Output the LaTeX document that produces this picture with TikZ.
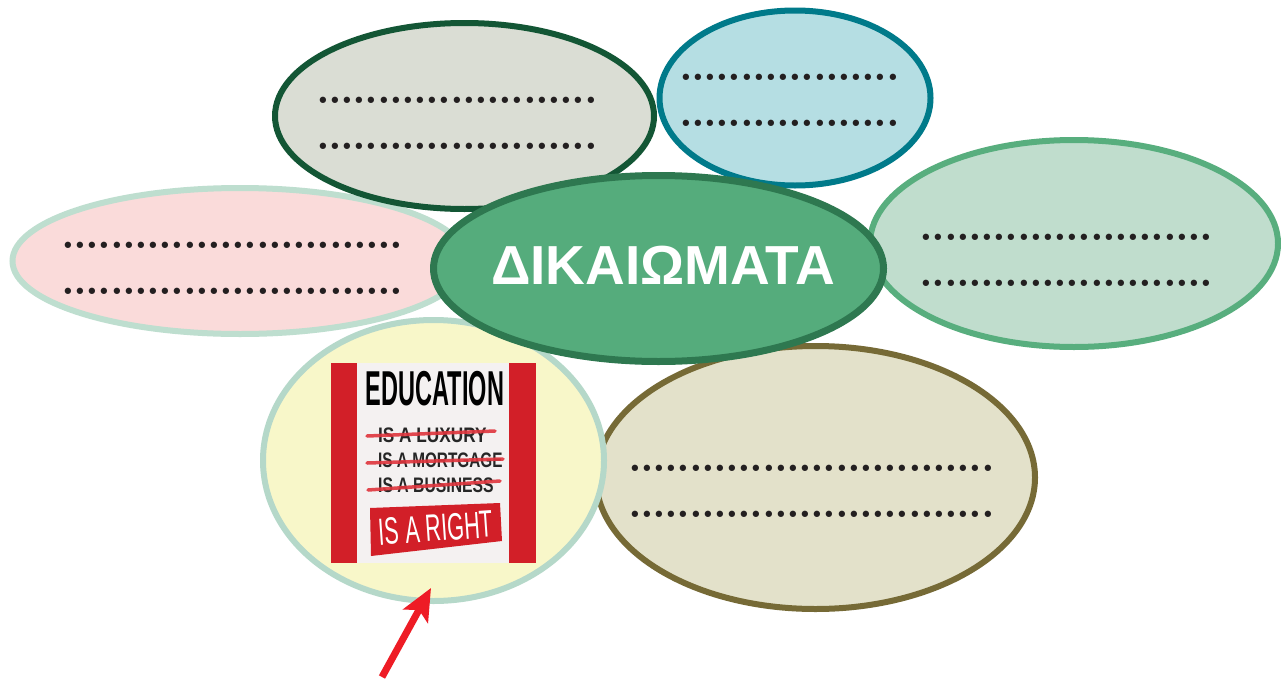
\documentclass[tikz,border=0pt]{standalone}
\usepackage{fontspec}
\usetikzlibrary{shapes.geometric,arrows.meta}
\newfontfamily\hsans{Liberation Sans}
\definecolor{grayF}{HTML}{DADDD4}\definecolor{grayB}{HTML}{135635}
\definecolor{blueF}{HTML}{B5DEE3}\definecolor{blueB}{HTML}{007A8A}
\definecolor{pinkF}{HTML}{FADBDA}\definecolor{pinkB}{HTML}{BEDECF}
\definecolor{centF}{HTML}{55AC7C}\definecolor{centB}{HTML}{2E7850}
\definecolor{rightF}{HTML}{C0DDCD}\definecolor{rightB}{HTML}{58AE7E}
\definecolor{oliveF}{HTML}{E3E1CA}\definecolor{oliveB}{HTML}{766A36}
\definecolor{yellF}{HTML}{F8F7C9}\definecolor{yellB}{HTML}{B5D8C9}
\definecolor{dotc}{HTML}{231F20}
\definecolor{posterred}{HTML}{D21F28}
\definecolor{posterwhite}{HTML}{F4F1F1}
\definecolor{strikered}{HTML}{E0353D}
\definecolor{arrowred}{HTML}{EE1C25}
\newcommand\dotline[1]{\foreach \k in {1,...,#1}{\makebox[12.17pt][c]{.}}}
\begin{document}
\begin{tikzpicture}[x=1pt,y=-1pt,
  bubble/.style={ellipse, inner sep=0pt, line width=6pt},
  dotrow/.style={anchor=base, inner sep=0pt, text=dotc, font=\fontsize{44}{44}\selectfont\bfseries},
  posterline/.style={anchor=base west, inner sep=0pt, text=black!85, font=\fontsize{21}{21}\selectfont\hsans\bfseries},
  strike/.style={strikered, line width=3.5pt, line cap=round, opacity=0.9}]
\useasboundingbox (0,0) rectangle (1281,680);
\fill[white] (0,0) rectangle (1281,680);
% ellipses (back to front)
\node[bubble, draw=pinkB, fill=pinkF, minimum width=455pt, minimum height=146pt] (pink) at (240,261) {};
\node[bubble, draw=grayB, fill=grayF, minimum width=379pt, minimum height=186pt] (gray) at (464.5,116) {};
\node[bubble, draw=blueB, fill=blueF, minimum width=271pt, minimum height=175pt] (blue) at (795,98) {};
\node[bubble, draw=rightB, fill=rightF, minimum width=408pt, minimum height=207pt] (right) at (1074,243.5) {};
\node[bubble, draw=oliveB, fill=oliveF, minimum width=439pt, minimum height=263pt] (olive) at (815.5,477.5) {};
\node[bubble, draw=yellB, fill=yellF, minimum width=341pt, minimum height=281pt] (yellow) at (433.5,460.5) {};
\node[bubble, draw=centB, fill=centF, line width=7pt, minimum width=450pt, minimum height=186pt] (center) at (658.5,268.5) {};
\node[inner sep=0pt, text=white, font=\fontsize{55}{55}\selectfont\hsans\bfseries] (title) at (663,265) {ΔΙΚΑΙΩΜΑΤΑ};
% dotted answer lines
\node[dotrow] (g1) at (457,103.5) {\dotline{23}};
\node[dotrow] (g2) at (457,149.5) {\dotline{23}};
\node[dotrow] (b1) at (789.5,80.5) {\dotline{18}};
\node[dotrow] (b2) at (789.5,126.5) {\dotline{18}};
\node[dotrow] (p1) at (232.5,248.5) {\dotline{28}};
\node[dotrow] (p2) at (232.5,294.5) {\dotline{28}};
\node[dotrow] (r1) at (1066.5,240.5) {\dotline{24}};
\node[dotrow] (r2) at (1066.5,286.5) {\dotline{24}};
\node[dotrow] (o1) at (811.5,471.5) {\dotline{30}};
\node[dotrow] (o2) at (811.5,517.5) {\dotline{30}};
% poster
\fill[posterred] (331,363) rectangle (536,563);
\fill[posterwhite] (357,363) rectangle (509,563);
\node[anchor=base, inner sep=0pt, text=black, font=\fontsize{49}{49}\selectfont\hsans\bfseries] (edu) at (435,405) {\scalebox{0.48}[1]{EDUCATION}};
\node[posterline] (lux) at (378,442) {\scalebox{0.82}[1]{IS A LUXURY}};
\node[posterline] (mort) at (378,467) {\scalebox{0.73}[1]{IS A MORTGAGE}};
\node[posterline] (bus) at (378,492) {\scalebox{0.75}[1]{IS A BUSINESS}};
\draw[strike] (367,436) -- (495,431);
\draw[strike] (367,463) -- (503,459);
\draw[strike] (368,490) -- (500,481);
\fill[posterred] (370,508) -- (500,503) -- (502,541) -- (371,556) -- cycle;
\node[inner sep=0pt, text=white, rotate=4, font=\fontsize{38}{38}\selectfont\hsans] (righttext) at (436,528) {\scalebox{0.57}[1]{IS A RIGHT}};
% arrow
\coordinate (arrtail) at (382,677);
\coordinate (arrtip) at (431,588);
\draw[arrowred, line width=7pt, -{Stealth[length=32pt,width=28pt,inset=7pt]}] (arrtail) -- (arrtip);
\end{tikzpicture}
\end{document}
